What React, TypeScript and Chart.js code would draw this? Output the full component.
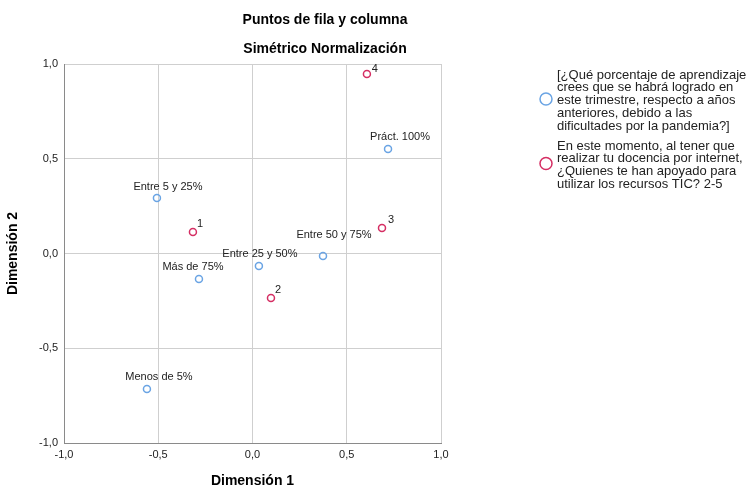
import React, { useEffect, useRef } from "react";
import { Chart, registerables } from "chart.js";

Chart.register(...registerables);

// ---- Data ----
const rowLabels = ["Menos de 5%", "Entre 5 y 25%", "Entre 25 y 50%", "Entre 50 y 75%", "Más de 75%", "Práct. 100%"];
const rowX = [-0.56, -0.507, 0.034, 0.374, -0.284, 0.719];
const rowY = [-0.715, 0.293, -0.066, -0.013, -0.135, 0.551];

const colLabels = ["1", "2", "3", "4"];
const colX = [-0.316, 0.098, 0.687, 0.607];
const colY = [0.113, -0.235, 0.135, 0.947];

const xTicks = [-1, -0.5, 0, 0.5, 1];
const yTicks = [-1, -0.5, 0, 0.5, 1];

const titleLines = ["Puntos de fila y columna", "Simétrico Normalización"];
const xTitle = "Dimensión 1";
const yTitle = "Dimensión 2";

const rowLegend = [
  "[¿Qué porcentaje de aprendizaje",
  "crees que se habrá logrado en",
  "este trimestre, respecto a años",
  "anteriores, debido a las",
  "dificultades por la pandemia?]",
];
const colLegend = [
  "En este momento, al tener que",
  "realizar tu docencia por internet,",
  "¿Quienes te han apoyado para",
  "utilizar los recursos TIC? 2-5",
];

// ---- Styles / placement ----
const BLUE = "#6aa4e4";
const RED = "#d52e63";
const FONT = "'Liberation Sans', Arial, Helvetica, sans-serif";
const rowLabelOffsets: [number, number][] = [[12, -12], [11, -11], [1, -12], [11, -21], [-6, -12], [12, -12]];
const colLabelOffsets: [number, number][] = [[7, -8], [7, -8], [9, -8], [8, -5]];

const fmt = (v: number) => Number(v).toFixed(1).replace(".", ",");

const overlayPlugin = {
  id: "overlay",
  afterDatasetsDraw(chart: any) {
    const ctx = chart.ctx as CanvasRenderingContext2D;
    ctx.save();
    // point labels
    ctx.font = `11px ${FONT}`;
    ctx.fillStyle = "#222";
    ctx.textAlign = "center";
    ctx.textBaseline = "middle";
    const sets: [number, string[], [number, number][]][] = [
      [0, rowLabels, rowLabelOffsets],
      [1, colLabels, colLabelOffsets],
    ];
    for (const [di, labels, offs] of sets) {
      const meta = chart.getDatasetMeta(di);
      meta.data.forEach((el: any, i: number) => {
        const o = offs[i] || [0, -12];
        ctx.fillText(labels[i], el.x + o[0], el.y + o[1]);
      });
    }
    // titles
    ctx.font = `bold 14px ${FONT}`;
    ctx.fillStyle = "#000";
    ctx.fillText(titleLines[0], 325, 20);
    ctx.fillText(titleLines[1], 325, 49);
    // legend
    ctx.lineWidth = 1.5;
    ctx.strokeStyle = BLUE;
    ctx.beginPath();
    ctx.arc(546, 99, 6, 0, Math.PI * 2);
    ctx.stroke();
    ctx.strokeStyle = RED;
    ctx.beginPath();
    ctx.arc(546, 163.5, 6, 0, Math.PI * 2);
    ctx.stroke();
    ctx.font = `13px ${FONT}`;
    ctx.fillStyle = "#222";
    ctx.textAlign = "left";
    rowLegend.forEach((t, i) => ctx.fillText(t, 557, 75 + i * 12.9));
    colLegend.forEach((t, i) => ctx.fillText(t, 557, 146 + i * 12.9));
    ctx.restore();
  },
};

export default function App() {
  const ref = useRef<HTMLCanvasElement | null>(null);
  useEffect(() => {
    if (!ref.current) return;
    Chart.defaults.font.family = FONT;
    const chart = new Chart(ref.current, {
      type: "scatter",
      data: {
        datasets: [
          {
            label: "rows",
            data: rowX.map((x, i) => ({ x, y: rowY[i] })),
            borderColor: BLUE,
            backgroundColor: "rgba(0,0,0,0)",
            pointRadius: 3.5,
            pointBorderWidth: 1.5,
          },
          {
            label: "cols",
            data: colX.map((x, i) => ({ x, y: colY[i] })),
            borderColor: RED,
            backgroundColor: "rgba(0,0,0,0)",
            pointRadius: 3.5,
            pointBorderWidth: 1.5,
          },
        ],
      },
      options: {
        animation: false,
        responsive: false,
        devicePixelRatio: 1,
        layout: { padding: { top: 64, right: 310, left: 0, bottom: 0 } },
        plugins: { legend: { display: false }, tooltip: { enabled: false }, title: { display: false } },
        scales: {
          x: {
            type: "linear",
            min: -1,
            max: 1,
            afterBuildTicks: (s: any) => {
              s.ticks = xTicks.map((v) => ({ value: v }));
            },
            afterFit: (s: any) => {
              s.height = 48;
            },
            ticks: { padding: 5, color: "#222", font: { size: 11 }, callback: (v: any) => fmt(v), maxRotation: 0 },
            grid: { color: "#cfcfcf", drawTicks: false, lineWidth: 1 },
            border: { display: true, color: "#8a8a8a", width: 1 },
            title: { display: true, text: xTitle, color: "#000", font: { size: 14, weight: "bold" }, padding: { top: 0, bottom: 1 } },
          },
          y: {
            type: "linear",
            min: -1,
            max: 1,
            afterBuildTicks: (s: any) => {
              s.ticks = yTicks.map((v) => ({ value: v }));
            },
            afterFit: (s: any) => {
              s.width = 64;
            },
            ticks: { padding: 6, color: "#222", font: { size: 11 }, callback: (v: any) => fmt(v) },
            grid: { color: "#cfcfcf", drawTicks: false, lineWidth: 1 },
            border: { display: true, color: "#8a8a8a", width: 1 },
            title: { display: true, text: yTitle, color: "#000", font: { size: 14, weight: "bold" }, padding: { top: 5, bottom: 0 } },
          },
        },
      } as any,
      plugins: [overlayPlugin],
    });
    return () => chart.destroy();
  }, []);
  return (
    <div style={{ position: "fixed", left: 0, top: 0, width: 751, height: 491, background: "#fff" }}>
      <canvas ref={ref} width={751} height={491} style={{ width: 751, height: 491, display: "block" }} />
    </div>
  );
}
